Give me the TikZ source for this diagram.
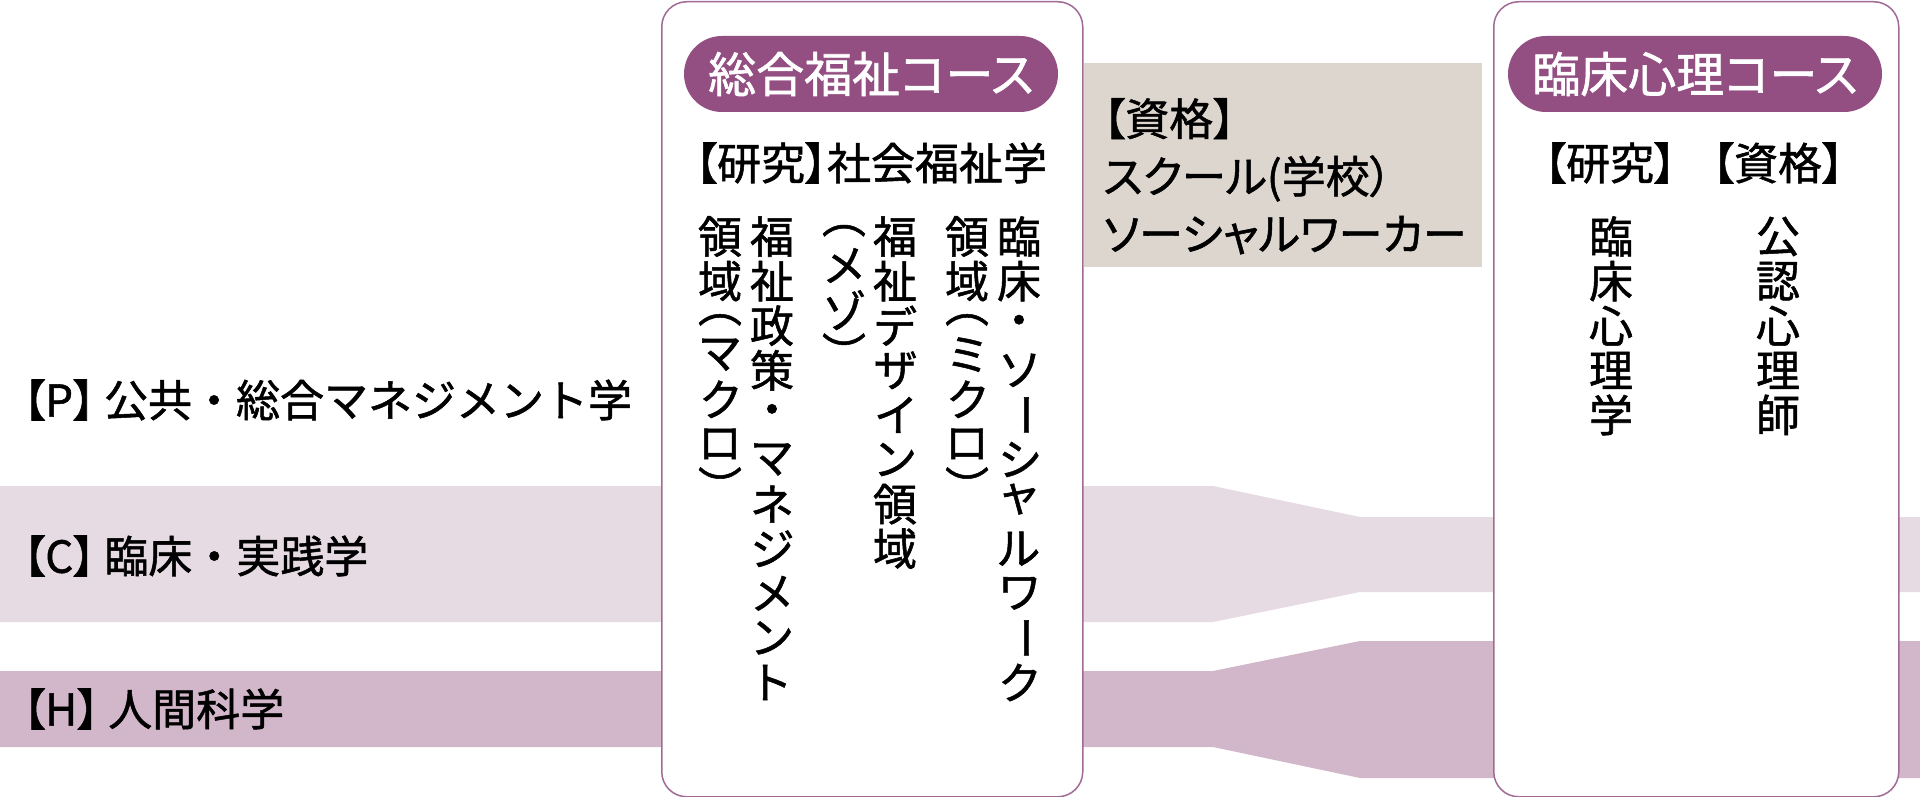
\documentclass[tikz,border=0pt]{standalone}
\usepackage{fontspec}
\XeTeXuseglyphmetrics=1
\setmainfont{Noto Sans CJK JP}[RawFeature=+palt,FakeBold=1.2]
\newfontfamily\jp[RawFeature=+palt,FakeBold=1.2]{Noto Sans CJK JP}
\newfontfamily\jpfull[FakeBold=1.2]{Noto Sans CJK JP}
\definecolor{pillc}{HTML}{934E82}
\definecolor{edgec}{HTML}{A06A96}
\definecolor{bandC}{HTML}{E6DAE3}
\definecolor{bandH}{HTML}{D2B6C9}
\definecolor{grayc}{HTML}{DDD6CF}
% vertical-writing cells
\newcommand\vcellb[3]{\hbox to 44pt{\hss\vbox to #1{\vss\hbox{#2}\vss\vskip#3}\hss}}
\newcommand\kc[1]{\vcellb{44.6pt}{#1}{0pt}}
\newcommand\pc[1]{\vcellb{29pt}{\rotatebox[origin=c]{-90}{#1}}{0pt}}
\newcommand\lc{\vcellb{44.6pt}{\rotatebox[origin=c]{-90}{ー}}{0pt}}
\newcommand\sk[1]{\vcellb{44.6pt}{#1}{10pt}}
\newcommand\tcol[1]{\vbox{\offinterlineskip #1}}
\newcommand\brk[1]{{\jp #1}\kern9pt}
\begin{document}
\begin{tikzpicture}[x=1pt,y=-1pt,
  course/.style={draw=edgec, line width=1.5pt, fill=white, rounded corners=25pt, inner sep=0pt, anchor=north west},
  pill/.style={fill=pillc, rounded corners=38pt, minimum height=76pt, inner sep=0pt, text=white, font=\jp\fontsize{48}{48}\selectfont},
  lab/.style={anchor=west, inner sep=0pt, font=\jpfull\fontsize{44}{44}\selectfont},
  txt/.style={inner sep=0pt, font=\jp\fontsize{44}{44}\selectfont},
  tatecol/.style={anchor=north, inner sep=0pt, font=\jp\fontsize{44}{44}\selectfont}]
\useasboundingbox (0,0) rectangle (1920,797);
% bands
\fill[bandC] (0,486) -- (1213,486) -- (1360,517) -- (1920,517) -- (1920,592) -- (1360,592) -- (1213,622) -- (0,622) -- cycle;
\fill[bandH] (0,671) -- (1213,671) -- (1360,641) -- (1920,641) -- (1920,778) -- (1360,778) -- (1213,747) -- (0,747) -- cycle;
% left labels
\node[lab] (P) at (23,400) {\brk{【P】}公共・総合マネジメント学};
\node[lab] (C) at (23,556) {\brk{【C】}臨床・実践学};
\node[lab] (H) at (23,709) {\brk{【H】}人間科学};
% course boxes
\node[course, minimum width=421pt, minimum height=795pt] (gen) at (661,1) {};
\node[course, minimum width=405pt, minimum height=795pt] (cli) at (1493,1) {};
% qualification box
\node[fill=grayc, anchor=north west, minimum width=398pt, minimum height=204pt, inner sep=0pt] (qbox) at (1084,63) {};
\node[txt, anchor=north west, align=left, font=\jp\fontsize{44}{57.5}\selectfont] (qtext) at (1103,98) {【資格】\\スクール(学校）\\ソーシャルワーカー};
% pills
\node[pill, minimum width=374pt] (genpill) at (871,74) {総合福祉コース};
\node[pill, minimum width=374pt] (clipill) at (1695,74) {臨床心理コース};
% headers
\node[txt] (genres) at (871,163) {【研究】社会福祉学};
\node[txt] (clires) at (1610,163) {【研究】};
\node[txt] (cliqual) at (1778,163) {【資格】};
% vertical columns
\node[tatecol] (g1) at (1019,214) {\tcol{\kc{臨}\kc{床}\kc{・}\kc{ソ}\lc\kc{シ}\sk{ャ}\kc{ル}\kc{ワ}\lc\kc{ク}}};
\node[tatecol] (g2) at (967,214) {\tcol{\kc{領}\kc{域}\pc{（}\kc{ミ}\kc{ク}\kc{ロ}\pc{）}}};
\node[tatecol] (g3) at (895,214) {\tcol{\kc{福}\kc{祉}\kc{デ}\kc{ザ}\kc{イ}\kc{ン}\kc{領}\kc{域}}};
\node[tatecol] (g4) at (844,214) {\tcol{\pc{（}\kc{メ}\kc{ゾ}\pc{）}}};
\node[tatecol] (g5) at (772,214) {\tcol{\kc{福}\kc{祉}\kc{政}\kc{策}\kc{・}\kc{マ}\kc{ネ}\kc{ジ}\kc{メ}\kc{ン}\kc{ト}}};
\node[tatecol] (g6) at (720,214) {\tcol{\kc{領}\kc{域}\pc{（}\kc{マ}\kc{ク}\kc{ロ}\pc{）}}};
\node[tatecol] (c1) at (1611,214) {\tcol{\kc{臨}\kc{床}\kc{心}\kc{理}\kc{学}}};
\node[tatecol] (c2) at (1778,214) {\tcol{\kc{公}\kc{認}\kc{心}\kc{理}\kc{師}}};
\end{tikzpicture}
\end{document}
